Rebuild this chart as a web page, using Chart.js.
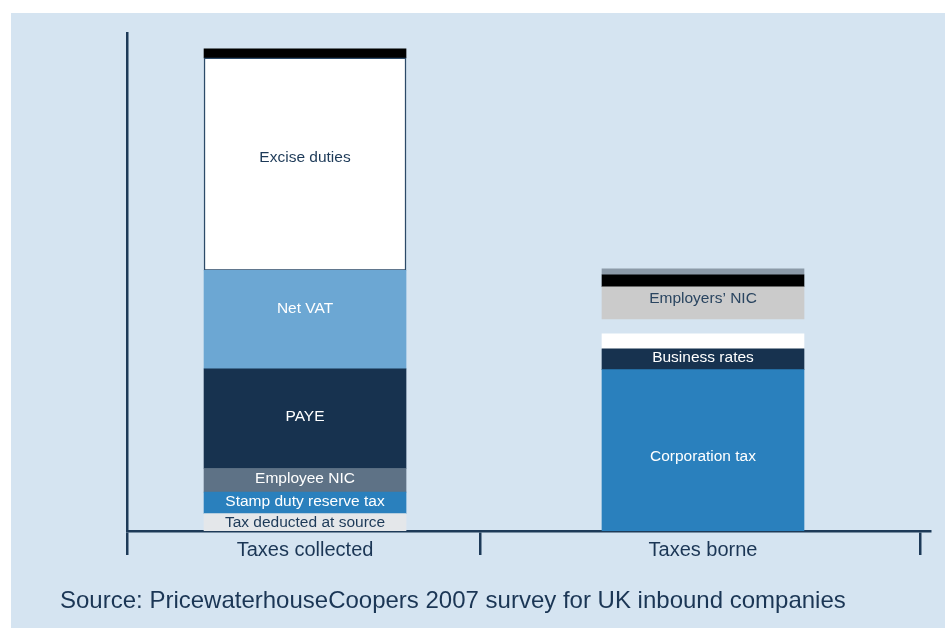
<!DOCTYPE html>
<html>
<head>
<meta charset="utf-8">
<script src="https://cdn.jsdelivr.net/npm/chart.js@4/dist/chart.umd.min.js"></script>
<style>
  body { margin: 0; background: #fff; }
  #panel { position: absolute; left: 11px; top: 13px; width: 934px; height: 615px; background: #d5e4f1; }
  #wrap { position: absolute; left: 0; top: 0; width: 934px; height: 580px; }
  #source { position: absolute; left: 49px; top: 573px; font: 24px "Liberation Sans", Arial, sans-serif; color: #1b3655; white-space: nowrap; }
</style>
</head>
<body>
<div id="panel">
  <div id="wrap"><canvas id="tax_chart"></canvas></div>
  <div id="source">Source: PricewaterhouseCoopers 2007 survey for UK inbound companies</div>
</div>
<script>
// categories and stacked segments (share of axis height, bottom to top)
var categories = ['Taxes collected', 'Taxes borne'];

var taxDeducted    = [3.5, null];
var stampDuty      = [4.3, null];
var employeeNic    = [4.75, null];
var paye           = [20.0, null];
var netVat         = [19.8, null];
var exciseDuties   = [42.65, null];
var otherCollected = [1.8, null];

var corporationTax = [null, 32.4];
var businessRates  = [null, 4.2];
var otherBorneA    = [null, 3.0];
var gapBorne       = [null, 3.0];
var employersNic   = [null, 6.45];
var otherBorneB    = [null, 2.4];
var otherBorneC    = [null, 1.2];

// x layout on a 0-100 axis
var xCentres = [22.17, 71.73];
var xBounds = [0, 44.02, 98.75];

var axisColor = '#1d3a58';
var font = '"Liberation Sans", Arial, Helvetica, sans-serif';

function seg(label, values, bg, textColor, textShift, border) {
    return {
        label: label,
        data: values.map(function(v, i) { return { x: xCentres[i], y: v }; }),
        backgroundColor: bg,
        borderColor: '#2c4a68',
        borderWidth: border || 0,
        borderSkipped: false,
        textColor: textColor,
        textShift: textShift || 0,
        barThickness: 202
    };
}

var barData = {
    datasets: [
        seg('Tax deducted at source', taxDeducted, '#e4e7ea', '#1d3a58', 0),
        seg('Stamp duty reserve tax', stampDuty, '#2a80bd', '#ffffff', -1),
        seg('Employee NIC', employeeNic, '#5e7286', '#ffffff', -1.5),
        seg('PAYE', paye, '#17324f', '#ffffff', -2),
        seg('Net VAT', netVat, '#6ca7d3', '#ffffff', -11),
        seg('Excise duties', exciseDuties, '#ffffff', '#1d3a58', -6, 1.5),
        seg('', otherCollected, '#000000'),
        seg('Corporation tax', corporationTax, '#2a80bd', '#ffffff', 6.5),
        seg('Business rates', businessRates, '#17324f', '#ffffff', -1.5),
        seg('', otherBorneA, '#ffffff'),
        seg('', gapBorne, 'rgba(0,0,0,0)'),
        seg('Employers\u2019 NIC', employersNic, '#cbcbcb', '#2a4560', -4),
        seg('', otherBorneB, '#000000'),
        seg('', otherBorneC, '#8c9aa8')
    ]
};

var segmentLabels = {
    id: 'segmentLabels',
    afterDatasetsDraw: function(chart) {
        var ctx = chart.ctx;
        ctx.save();
        ctx.font = '15.5px ' + font;
        ctx.textAlign = 'center';
        ctx.textBaseline = 'middle';
        chart.data.datasets.forEach(function(ds, i) {
            if (!ds.label) return;
            chart.getDatasetMeta(i).data.forEach(function(bar, j) {
                if (ds.data[j].y == null) return;
                ctx.fillStyle = ds.textColor;
                ctx.fillText(ds.label, bar.x, (bar.y + bar.base) / 2 + ds.textShift);
            });
        });
        ctx.restore();
    }
};

var tickValues = xBounds.concat(xCentres).sort(function(a, b) { return a - b; });

var barOptions = {
    responsive: true,
    maintainAspectRatio: false,
    animation: false,
    layout: { padding: { left: 116, top: 20, right: 15, bottom: 32 } },
    plugins: { legend: { display: false }, tooltip: { enabled: false } },
    scales: {
        x: {
            type: 'linear', min: 0, max: 100, stacked: true, offset: false,
            afterBuildTicks: function(axis) {
                axis.ticks = tickValues.map(function(v) { return { value: v }; });
            },
            afterFit: function(axis) {
                axis.height += 16;
            },
            grid: {
                drawOnChartArea: false,
                offset: false,
                tickLength: 24,
                lineWidth: 2.5,
                color: function(c) {
                    return c.tick && xBounds.indexOf(c.tick.value) >= 0 ? axisColor : 'rgba(0,0,0,0)';
                }
            },
            border: { color: axisColor, width: 2.5 },
            ticks: {
                autoSkip: false, maxRotation: 0, padding: -17,
                color: '#1b3655',
                font: { size: 20, family: font },
                callback: function(value) {
                    var i = xCentres.indexOf(value);
                    return i >= 0 ? categories[i] : '';
                }
            }
        },
        y: {
            min: 0, max: 100, stacked: true,
            grid: { display: false, drawTicks: false },
            ticks: { display: false },
            border: { color: axisColor, width: 2.5 }
        }
    }
};

var ctx = document.getElementById('tax_chart').getContext('2d');
new Chart(ctx, { type: 'bar', data: barData, options: barOptions, plugins: [segmentLabels] });
</script>
</body>
</html>
